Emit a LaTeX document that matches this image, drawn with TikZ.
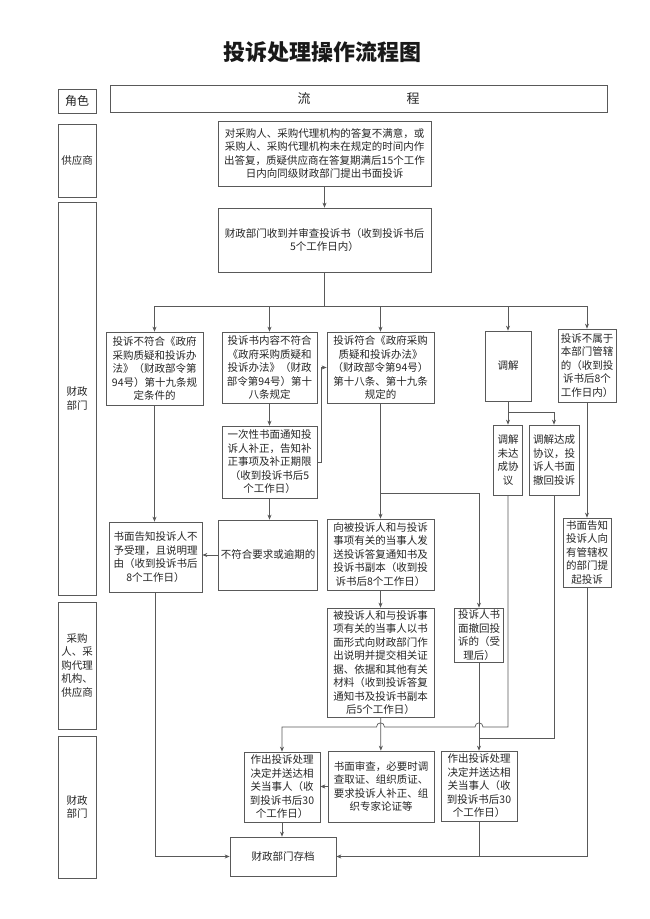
\documentclass[tikz,border=0pt]{standalone}
\usepackage{fontspec}
\setmainfont{Noto Sans CJK SC}
\usetikzlibrary{calc,arrows.meta}

\begin{document}
\begin{tikzpicture}[
    x=1pt, y=-1pt,
    proc/.style={draw=black!65, line width=0.7pt, fill=white, text=black!85, align=center, inner sep=1pt,
                 font=\fontsize{10.5}{13.5}\selectfont},
    role/.style={proc, minimum width=38pt},
    wire/.style={draw=black!65, line width=0.7pt},
    wirearr/.style={wire, -{Stealth[length=5pt,width=4pt]}},
  ]
  \useasboundingbox (0,0) rectangle (650,919);

  % ---------------- levels of the connecting lines -------------------------
  \coordinate (bus)  at (0,306);   % five branches under the review box
  \coordinate (mbus) at (0,412);   % mediation split
  \coordinate (wbus) at (0,493);   % withdrawal branch
  \coordinate (ubus) at (0,727);   % mediation failed
  \coordinate (vbus) at (0,738);   % mediation agreed
  \def\hop{4}                      % half width of a line hop

  % ---------------- title and header row -----------------------------------
  \node[font=\fontsize{22}{24}\selectfont\bfseries, text=black!90] (title) at (322,52) {投诉处理操作流程图};
  \node[proc, font=\fontsize{12}{14}\selectfont, minimum width=38pt, minimum height=24pt] (rolehd) at (77,101) {角色};
  \node[proc, font=\fontsize{13}{15}\selectfont, minimum width=497pt, minimum height=27pt] (flowhd) at (358.5,98.5) {流\hspace{96pt}程};

  % ---------------- roles, left column -------------------------------------
  \node[role, minimum height=73pt]  (r1) at (77,160.5) {供应商};
  \node[role, minimum height=393pt] (r2) at (77,398.5) {财政\\部门};
  \node[role, minimum height=127pt] (r3) at (77,665.5) {采购\\人、采\\购代理\\机构、\\供应商};
  \node[role, minimum height=142pt] (r4) at (77,807)   {财政\\部门};

  % ---------------- complaint and review -----------------------------------
  \node[proc, minimum width=213pt, minimum height=65pt] (sup) at (324.5,153.5)
    {对采购人、采购代理机构的答复不满意，或\\采购人、采购代理机构未在规定的时间内作\\出答复，质疑供应商在答复期满后15个工作\\日内向同级财政部门提出书面投诉};
  \node[proc, minimum width=213pt, minimum height=64pt] (rev) at (324.5,240)
    {财政部门收到并审查投诉书（收到投诉书后\\5个工作日内）};

  % ---------------- the five outcomes of the review ------------------------
  \node[proc, minimum width=97pt,  minimum height=73pt] (nA) at (154.5,368.5)
    {投诉不符合《政府\\采购质疑和投诉办\\法》（财政部令第\\94号）第十九条规\\定条件的};
  \node[proc, minimum width=95pt,  minimum height=71pt] (nB) at (269.5,367.5)
    {投诉书内容不符合\\《政府采购质疑和\\投诉办法》（财政\\部令第94号）第十\\八条规定};
  \node[proc, minimum width=107pt, minimum height=71pt] (nC) at (380.5,367.5)
    {投诉符合《政府采购\\质疑和投诉办法》\\（财政部令第94号）\\第十八条、第十九条\\规定的};
  \node[proc, minimum width=46pt,  minimum height=70pt] (nD) at (508,366) {调解};
  \node[proc, minimum width=58pt,  minimum height=73pt] (nE) at (587,365.5)
    {投诉不属于\\本部门管辖\\的（收到投\\诉书后8个\\工作日内）};

  % ---------------- second row ---------------------------------------------
  \node[proc, minimum width=95pt, minimum height=72pt] (note) at (269.5,462)
    {一次性书面通知投\\诉人补正，告知补\\正事项及补正期限\\（收到投诉书后5\\个工作日）};
  \node[proc, minimum width=29pt, minimum height=70pt] (fail) at (508,460) {调解\\未达\\成协\\议};
  \node[proc, minimum width=50pt, minimum height=70pt] (agree) at (554,460)
    {调解达成\\协议，投\\诉人书面\\撤回投诉};

  % ---------------- third row ----------------------------------------------
  \node[proc, minimum width=93pt,  minimum height=70pt] (rej) at (155.5,557)
    {书面告知投诉人不\\予受理，且说明理\\由（收到投诉书后\\8个工作日）};
  \node[proc, minimum width=99pt,  minimum height=70pt] (late) at (268,555) {不符合要求或逾期的};
  \node[proc, minimum width=107pt, minimum height=71pt] (send) at (380.5,554.5)
    {向被投诉人和与投诉\\事项有关的当事人发\\送投诉答复通知书及\\投诉书副本（收到投\\诉书后8个工作日）};
  \node[proc, minimum width=48pt,  minimum height=69pt] (redir) at (587,552.5)
    {书面告知\\投诉人向\\有管辖权\\的部门提\\起投诉};

  % ---------------- replies of the parties ---------------------------------
  \node[proc, minimum width=107pt, minimum height=109pt] (reply) at (380.5,662.5)
    {被投诉人和与投诉事\\项有关的当事人以书\\面形式向财政部门作\\出说明并提交相关证\\据、依据和其他有关\\材料（收到投诉答复\\通知书及投诉书副本\\后5个工作日）};
  \node[proc, minimum width=49pt, minimum height=54pt] (wdraw) at (479,635)
    {投诉人书\\面撤回投\\诉的（受\\理后）};

  % ---------------- decisions ----------------------------------------------
  \node[proc, minimum width=76pt,  minimum height=70pt] (decL) at (282,787)
    {作出投诉处理\\决定并送达相\\关当事人（收\\到投诉书后30\\个工作日）};
  \node[proc, minimum width=106pt, minimum height=71pt] (exam) at (381,786.5)
    {书面审查，必要时调\\查取证、组织质证、\\要求投诉人补正、组\\织专家论证等};
  \node[proc, minimum width=76pt,  minimum height=70pt] (decR) at (479,786)
    {作出投诉处理\\决定并送达相\\关当事人（收\\到投诉书后30\\个工作日）};
  \node[proc, minimum width=106pt, minimum height=39pt] (file) at (283,856.5) {财政部门存档};

  % ---------------- connectors ---------------------------------------------
  \draw[wirearr] (sup) -- (rev);
  \draw[wire] (rev.south) -- (rev.south |- bus);
  \draw[wire] (nA.north |- bus) -- (nE.north |- bus);
  \foreach \n in {nA,nB,nC,nD,nE}
    \draw[wirearr] (\n.north |- bus) -- (\n.north);

  \draw[wirearr] (nA.south) -- (nA.south |- rej.north);
  \draw[wirearr] (nB) -- (note);
  \draw[wirearr] (note.east) -- ++(4,0) |- (nC.west);
  \draw[wirearr] (note.south) -- (note.south |- late.north);
  \draw[wirearr] (late.west) -- (late.west -| rej.east);

  \draw[wirearr] (nC) -- (send);
  \draw[wirearr] (nC.south |- wbus) -| (wdraw.north);
  \draw[wirearr] (send) -- (reply);
  \draw[wirearr] (reply) -- (exam);
  \draw[wirearr] (exam.west) -- (exam.west -| decL.east);

  \draw[wire] (nD.south) -- (nD.south |- mbus);
  \draw[wirearr] (nD.south |- mbus) -- (fail.north);
  \draw[wirearr] (nD.south |- mbus) -| (agree.north);
  \draw[wirearr] (nE) -- (redir);

  % mediation failed: over the two lines to the left decision
  \draw[wirearr] (fail.south) -- (fail.south |- ubus)
    -- ($(wdraw.south |- ubus)+(\hop,0)$)
       .. controls ($(wdraw.south |- ubus)+(\hop,-5.5)$) and ($(wdraw.south |- ubus)+(-\hop,-5.5)$) .. ($(wdraw.south |- ubus)+(-\hop,0)$)
    -- ($(reply.south |- ubus)+(\hop,0)$)
       .. controls ($(reply.south |- ubus)+(\hop,-5.5)$) and ($(reply.south |- ubus)+(-\hop,-5.5)$) .. ($(reply.south |- ubus)+(-\hop,0)$)
    -- (decL.north |- ubus) -- (decL.north);
  \draw[wire] (agree.south) |- (wdraw.south |- vbus);
  \draw[wirearr] (wdraw) -- (decR);

  % archive
  \draw[wirearr] (decL.south) -- (decL.south |- file.north);
  \draw[wirearr] (rej.south) |- (file.west);
  \draw[wirearr] (redir.south) |- (file.east);
  \draw[wire] (decR.south) -- (decR.south |- file.east);

\end{tikzpicture}
\end{document}
